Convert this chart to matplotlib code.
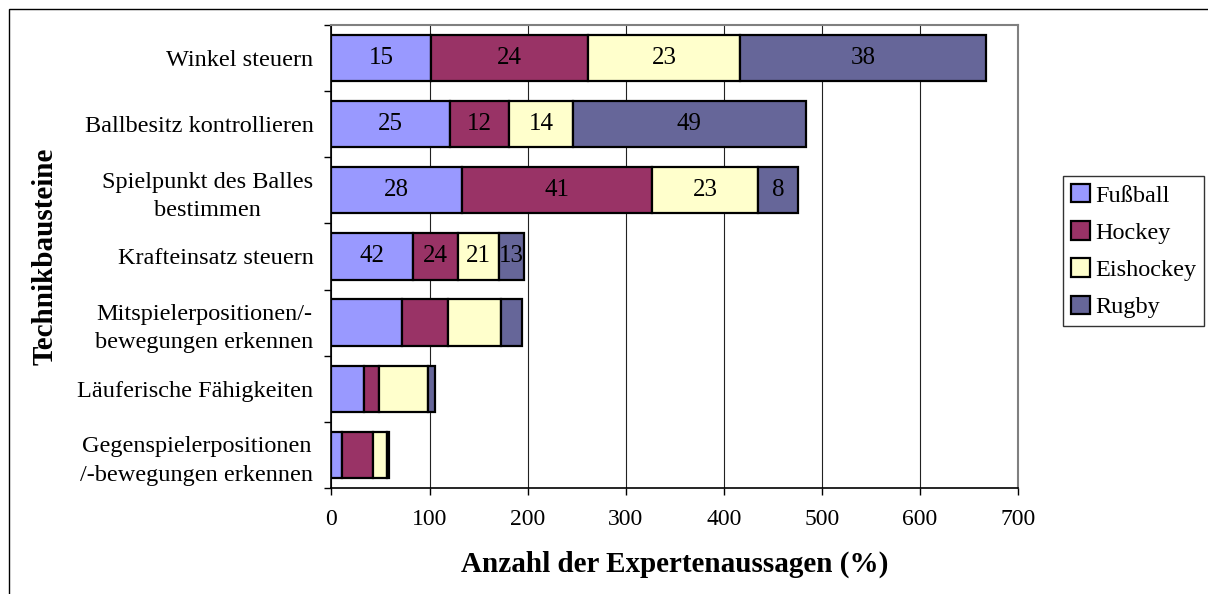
import numpy as np
import matplotlib
matplotlib.use('Agg')
import matplotlib.pyplot as plt
from matplotlib.patches import Rectangle

plt.rcParams['font.family'] = ['Liberation Serif', 'DejaVu Serif']

categories = ['Winkel steuern', 'Ballbesitz kontrollieren',
              'Spielpunkt des Balles\nbestimmen', 'Krafteinsatz steuern',
              'Mitspielerpositionen/-\nbewegungen erkennen',
              'Läuferische Fähigkeiten',
              'Gegenspielerpositionen\n/-bewegungen erkennen']
sports = ['Fußball', 'Hockey', 'Eishockey', 'Rugby']

# Balkenlaengen (%)
fussball = [101, 121, 133, 83, 71.5, 33.5, 10.7]
hockey = [161, 60, 194, 46, 47.5, 14.5, 32]
eishockey = [155, 65, 108, 42, 53.5, 50, 14]
rugby = [250, 237.5, 41, 25, 22, 8, 2]

# Anzahl der Aussagen (Beschriftung)
fussball_n = [15, 25, 28, 42, None, None, None]
hockey_n = [24, 12, 41, 24, None, None, None]
eishockey_n = [23, 14, 23, 21, None, None, None]
rugby_n = [38, 49, 8, 13, None, None, None]

colors = ['#9999FF', '#993366', '#FFFFCC', '#666699']

fig = plt.figure(figsize=(12.08, 5.94), dpi=100)
ax = fig.add_axes([0.2744, 0.1785, 0.5683, 0.7795])

y = np.arange(len(categories))
left = np.zeros(len(categories))
for vals, cnts, col, name in zip([fussball, hockey, eishockey, rugby],
                                 [fussball_n, hockey_n, eishockey_n, rugby_n],
                                 colors, sports):
    vals = np.array(vals)
    ax.barh(y, vals, left=left, height=0.7, color=col, edgecolor='black',
            linewidth=1.6, label=name, zorder=3)
    for i, c in enumerate(cnts):
        if c is not None:
            ax.text(left[i] + vals[i] / 2, y[i], str(c), ha='center', va='center',
                    fontsize=18, zorder=4)
    left = left + vals

ax.set_xlim(0, 700)
ax.set_ylim(len(categories) - 0.5, -0.5)
ax.set_xticks(np.arange(0, 701, 100))
ax.tick_params(axis='x', labelsize=17, length=5, width=1, direction='out', pad=10)
ax.set_yticks(y)
ax.set_yticklabels(categories, multialignment='center', linespacing=1.45)
ax.tick_params(axis='y', which='major', length=0, labelsize=17.5, pad=13)
ax.set_yticks(np.arange(-0.5, len(categories)), minor=True)
ax.tick_params(axis='y', which='minor', length=5, width=1, direction='out')

ax.grid(axis='x', color='#222222', linewidth=0.8, zorder=0)
for s in ['top', 'right']:
    ax.spines[s].set_color('#808080')
    ax.spines[s].set_linewidth(1.5)
for s in ['left', 'bottom']:
    ax.spines[s].set_color('black')
    ax.spines[s].set_linewidth(1.2)

ax.set_xlabel('Anzahl der Expertenaussagen (%)', fontsize=21, fontweight='bold', labelpad=15)
ax.set_ylabel('Technikbausteine', fontsize=21, fontweight='bold')
ax.yaxis.set_label_coords(-0.398, 0.5)

leg = fig.legend(loc='upper left', bbox_to_anchor=(1063 / 1208, 1 - 176 / 594),
                 fontsize=17.5, frameon=True, fancybox=False, borderaxespad=0,
                 handlelength=0.8, handleheight=0.8, handletextpad=0.2,
                 labelspacing=0.6, borderpad=0.32)
leg.get_frame().set_edgecolor('black')
leg.get_frame().set_linewidth(1)

fig.patches.append(Rectangle((9 / 1208, -0.1), 1.2, 1 - 9 / 594 + 0.1,
                             transform=fig.transFigure, fill=False,
                             edgecolor='black', linewidth=1))

fig.savefig('out.png', dpi=100)
